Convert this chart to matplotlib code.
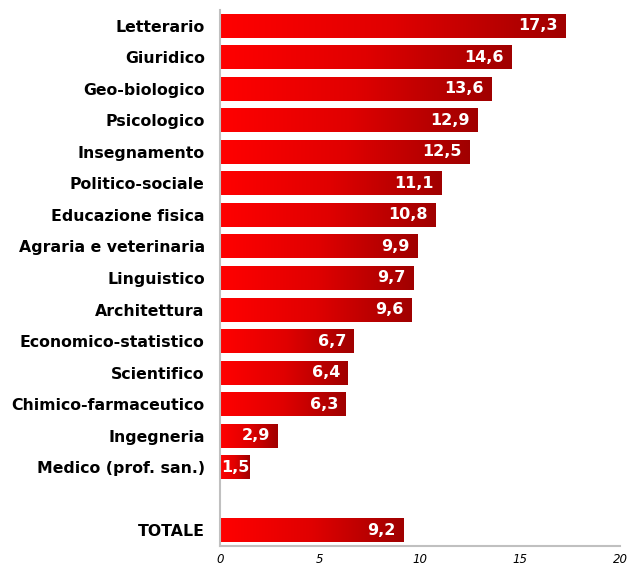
import matplotlib.pyplot as plt
import numpy as np
from matplotlib.colors import LinearSegmentedColormap

plt.rcParams["font.family"] = ["DejaVu Sans"]

categories = ["Letterario", "Giuridico", "Geo-biologico", "Psicologico",
              "Insegnamento", "Politico-sociale", "Educazione fisica",
              "Agraria e veterinaria", "Linguistico", "Architettura",
              "Economico-statistico", "Scientifico", "Chimico-farmaceutico",
              "Ingegneria", "Medico (prof. san.)"]
values = [17.3, 14.6, 13.6, 12.9, 12.5, 11.1, 10.8, 9.9, 9.7, 9.6,
          6.7, 6.4, 6.3, 2.9, 1.5]
total_label = "TOTALE"
total_value = 9.2
xticks = [0, 5, 10, 15, 20]

labels = categories + [""] + [total_label]
vals = values + [np.nan] + [total_value]
pos = np.arange(len(labels))

fig = plt.figure(figsize=(6.29, 5.68), dpi=100)
ax = fig.add_axes([220 / 629, 22 / 568, 400 / 629, 536 / 568])

cmap = LinearSegmentedColormap.from_list("redgrad", ["#ff0000", "#e00000", "#a00000"])
grad = np.linspace(0, 1, 256).reshape(1, -1)

for p, v in zip(pos, vals):
    if np.isnan(v):
        continue
    bar = ax.barh(p, v, height=0.76, color="none", edgecolor="none")[0]
    im = ax.imshow(grad, cmap=cmap, aspect="auto",
                   extent=(0, v, p + 0.38, p - 0.38), zorder=2)
    im.set_clip_path(bar)
    txt = f"{v:.1f}".replace(".", ",")
    if v < 2:
        # too short for the usual inset: start the label at the bar base
        ax.text(0.05, p, txt, ha="left", va="center",
                color="white", fontsize=11.5, fontweight="bold", zorder=3)
    else:
        ax.text(v - 0.4, p, txt, ha="right", va="center",
                color="white", fontsize=11.5, fontweight="bold", zorder=3)

ax.set_xlim(0, 20)
ax.set_ylim(len(labels) - 0.5, -0.5)
ax.set_yticks(pos)
ax.set_yticklabels(labels, fontsize=11.3, fontweight="bold")
ax.set_xticks(xticks)
ax.set_xticklabels([str(t) for t in xticks], fontsize=8.5, style="italic")
ax.tick_params(axis="y", length=0, pad=11)
ax.tick_params(axis="x", length=0, pad=5)
for side in ["top", "right"]:
    ax.spines[side].set_visible(False)
for side in ["left", "bottom"]:
    ax.spines[side].set_color("#c0c0c0")
    ax.spines[side].set_linewidth(1.5)

fig.savefig("out.png", dpi=100)
